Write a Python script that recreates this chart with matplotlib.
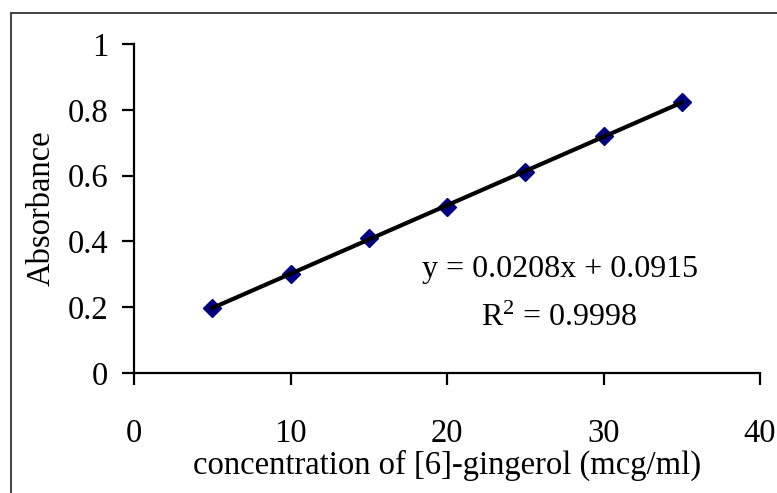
import numpy as np
import matplotlib.pyplot as plt
from matplotlib.patches import Rectangle

## Calibration data
conc = [5, 10, 15, 20, 25, 30, 35]
absorbance = [0.198, 0.301, 0.41, 0.504, 0.612, 0.72, 0.823]
eq_text = 'y = 0.0208x + 0.0915'
r2_text = 'R$^2$ = 0.9998'
xticks = [0, 10, 20, 30, 40]
yticks = [0, 0.2, 0.4, 0.6, 0.8, 1]
yticklabels = ['0', '0.2', '0.4', '0.6', '0.8', '1']

plt.rcParams['font.family'] = ['Liberation Serif', 'DejaVu Serif']
plt.rcParams['mathtext.fontset'] = 'custom'
plt.rcParams['mathtext.rm'] = 'Liberation Serif'
plt.rcParams['mathtext.default'] = 'rm'

W, H = 777, 493
fig = plt.figure(figsize=(W / 100, H / 100), dpi=100)
ax = fig.add_axes([134 / W, 1 - 373 / H, (760 - 134) / W, (373 - 44) / H])

## Outer frame (cropped at right and bottom)
fig.patches.append(Rectangle((11 / W, -0.05), 1.2, 1 - 13 / H + 0.05,
                             transform=fig.transFigure, fill=False,
                             edgecolor='#333333', linewidth=1.3))

ax.plot(conc, absorbance, linestyle='none', marker='D', markersize=9.5,
        color='#000080', zorder=2)
## Linear trendline
slope, intercept = np.polyfit(conc, absorbance, 1)
xs = np.array([conc[0], conc[-1]])
ax.plot(xs, slope * xs + intercept, color='black', linewidth=3, zorder=3)

ax.text(27.2, 0.315, eq_text, ha='center', va='center', fontsize=23)
ax.text(27.2, 0.165, r2_text, ha='center', va='center', fontsize=23)

ax.set_xlim(0, 40)
ax.set_ylim(0, 1)
ax.set_xticks(xticks)
ax.set_yticks(yticks, labels=yticklabels)
ax.spines['top'].set_visible(False)
ax.spines['right'].set_visible(False)
for s in ['left', 'bottom']:
    ax.spines[s].set_linewidth(1.6)
ax.tick_params(direction='out', length=8.5, width=1.6, labelsize=23.5)
ax.tick_params(axis='x', pad=24)
ax.tick_params(axis='y', pad=10)
ax.set_xlabel('concentration of [6]-gingerol (mcg/ml)', fontsize=23.5, labelpad=1)
ax.set_ylabel('Absorbance', fontsize=23.5, labelpad=8)

fig.savefig('out.png', dpi=100)
